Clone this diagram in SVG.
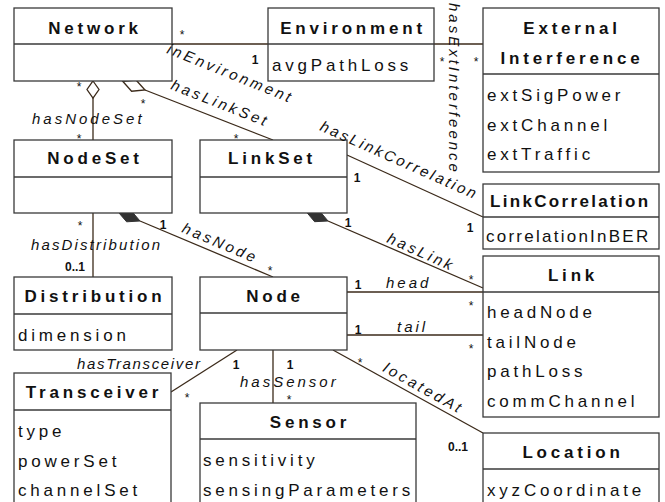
<svg xmlns="http://www.w3.org/2000/svg" width="665" height="502" viewBox="0 0 665 502">
<style>
.box{fill:#fff;stroke:#3a3a3a;stroke-width:1.3}
.dv{stroke:#3a3a3a;stroke-width:1.3}
.c{stroke:#3b2a1a;stroke-width:1.3;fill:none}
.t{font-family:"Liberation Sans",Arial,sans-serif;font-size:17px;font-weight:bold;letter-spacing:3.8px;text-anchor:middle;fill:#111}
.a{font-family:"Liberation Sans",Arial,sans-serif;font-size:17px;letter-spacing:3.8px;fill:#111}
.l{font-family:"Liberation Sans",Arial,sans-serif;font-size:15px;font-style:italic;letter-spacing:3px;fill:#111}
.m{font-family:"Liberation Sans",Arial,sans-serif;font-size:12px;font-weight:bold;text-anchor:middle;fill:#111}
.s{font-family:"Liberation Sans",Arial,sans-serif;font-size:12px;text-anchor:middle;fill:#111}
</style>
<rect width="665" height="502" fill="#fff"/>
<g id="connectors">
  <path class="c" d="M172 44H268"/>
  <path class="c" d="M434 44H483"/>
  <polygon points="93,81 99,89.5 93,98 87,89.5" fill="#fff" stroke="#3b2a1a" stroke-width="1.3"/>
  <path class="c" d="M93 98V140"/>
  <polygon points="122.7,81.3 131.6,91.2 145,90 136,80" fill="#fff" stroke="#3b2a1a" stroke-width="1.3"/>
  <path class="c" d="M145 90L273 140"/>
  <path class="c" d="M347 155L483 217"/>
  <polygon points="306,211.5 314.6,221.7 328,221 319.4,210.7" fill="#333" stroke="#333" stroke-width="1"/>
  <path class="c" d="M328 221L483 288"/>
  <polygon points="117.9,211.7 126.6,221.8 140,221 131.3,210.8" fill="#333" stroke="#333" stroke-width="1"/>
  <path class="c" d="M140 221L273 277"/>
  <path class="c" d="M93 213V277"/>
  <path class="c" d="M347 292H483"/>
  <path class="c" d="M347 335H483"/>
  <path class="c" d="M237 350L171 392"/>
  <path class="c" d="M273 350V403"/>
  <path class="c" d="M333 350L483 433"/>
</g>
<g id="Network">
  <rect class="box" x="14" y="8" width="158" height="73"/>
  <path class="dv" d="M14 44H172"/>
  <text class="t" x="95" y="34">Network</text>
</g>
<g id="Environment">
  <rect class="box" x="268" y="8" width="166" height="73"/>
  <path class="dv" d="M268 44H434"/>
  <text class="t" x="353" y="34">Environment</text>
  <text class="a" x="272" y="71">avgPathLoss</text>
</g>
<g id="ExternalInterference">
  <rect class="box" x="483" y="8" width="176" height="164"/>
  <path class="dv" d="M483 74H659"/>
  <text class="t" x="572" y="34">External</text>
  <text class="t" x="572" y="64">Interference</text>
  <text class="a" x="487" y="101">extSigPower</text>
  <text class="a" x="487" y="130.5">extChannel</text>
  <text class="a" x="487" y="160">extTraffic</text>
</g>
<g id="LinkCorrelation">
  <rect class="box" x="483" y="184" width="176" height="65"/>
  <path class="dv" d="M483 217H659"/>
  <text class="t" x="571" y="207" textLength="162" lengthAdjust="spacing" style="text-anchor:start" transform="translate(-81 0)">LinkCorrelation</text>
  <text class="a" x="486" y="242" textLength="166" lengthAdjust="spacing">correlationInBER</text>
</g>
<g id="Link">
  <rect class="box" x="483" y="256" width="176" height="161"/>
  <path class="dv" d="M483 292H659"/>
  <text class="t" x="573" y="281">Link</text>
  <text class="a" x="487" y="318">headNode</text>
  <text class="a" x="487" y="348">tailNode</text>
  <text class="a" x="487" y="377">pathLoss</text>
  <text class="a" x="487" y="407">commChannel</text>
</g>
<g id="Location">
  <rect class="box" x="483" y="433" width="176" height="80"/>
  <path class="dv" d="M483 469H659"/>
  <text class="t" x="573" y="458">Location</text>
  <text class="a" x="487" y="496">xyzCoordinate</text>
</g>
<g id="NodeSet">
  <rect class="box" x="14" y="140" width="158" height="73"/>
  <path class="dv" d="M14 177H172"/>
  <text class="t" x="95" y="164">NodeSet</text>
</g>
<g id="LinkSet">
  <rect class="box" x="200" y="140" width="147" height="73"/>
  <path class="dv" d="M200 177H347"/>
  <text class="t" x="272" y="164">LinkSet</text>
</g>
<g id="Distribution">
  <rect class="box" x="14" y="277" width="158" height="73"/>
  <path class="dv" d="M14 314H172"/>
  <text class="t" x="95" y="302">Distribution</text>
  <text class="a" x="18" y="341">dimension</text>
</g>
<g id="Node">
  <rect class="box" x="200" y="277" width="147" height="73"/>
  <path class="dv" d="M200 313H347"/>
  <text class="t" x="275" y="302">Node</text>
</g>
<g id="Transceiver">
  <rect class="box" x="14" y="373" width="157" height="140"/>
  <path class="dv" d="M14 410H171"/>
  <text class="t" x="94" y="398">Transceiver</text>
  <text class="a" x="18" y="437">type</text>
  <text class="a" x="18" y="467">powerSet</text>
  <text class="a" x="18" y="496">channelSet</text>
</g>
<g id="Sensor">
  <rect class="box" x="200" y="403" width="216" height="110"/>
  <path class="dv" d="M200 439H416"/>
  <text class="t" x="310" y="428">Sensor</text>
  <text class="a" x="203" y="466">sensitivity</text>
  <text class="a" x="203" y="496">sensingParameters</text>
</g>
<g id="connector-labels">
  <text class="l" transform="translate(166 53) rotate(22)">inEnvironment</text>
  <text class="s" x="182" y="39">*</text>
  <text class="m" x="255" y="64">1</text>
  <text class="l" transform="translate(449 3) rotate(90)">hasExtInterfeence</text>
  <text class="s" x="442" y="66">*</text>
  <text class="s" x="476" y="66">*</text>
  <text class="s" x="79" y="91">*</text>
  <text class="l" x="32" y="124">hasNodeSet</text>
  <text class="s" x="79" y="143">*</text>
  <text class="s" x="143" y="108">*</text>
  <text class="l" transform="translate(170 89) rotate(21.5)">hasLinkSet</text>
  <text class="s" x="236" y="143">*</text>
  <text class="l" transform="translate(319 130) rotate(24)" textLength="172" lengthAdjust="spacing">hasLinkCorrelation</text>
  <text class="m" x="357" y="182">1</text>
  <text class="m" x="470" y="232">1</text>
  <text class="m" x="348" y="227">1</text>
  <text class="l" transform="translate(386 242) rotate(24)">hasLink</text>
  <text class="s" x="471" y="284">*</text>
  <text class="m" x="163" y="229">1</text>
  <text class="l" transform="translate(181 232) rotate(23)">hasNode</text>
  <text class="s" x="270" y="275">*</text>
  <text class="s" x="80" y="230">*</text>
  <text class="l" x="31" y="250" textLength="132" lengthAdjust="spacing">hasDistribution</text>
  <text class="m" x="75" y="271">0..1</text>
  <text class="m" x="358" y="289">1</text>
  <text class="l" x="386" y="288">head</text>
  <text class="s" x="471" y="310">*</text>
  <text class="m" x="358" y="334">1</text>
  <text class="l" x="397" y="332">tail</text>
  <text class="s" x="471" y="353">*</text>
  <text class="l" x="77" y="369" textLength="126" lengthAdjust="spacing">hasTransceiver</text>
  <text class="m" x="236" y="369">1</text>
  <text class="s" x="187" y="402">*</text>
  <text class="m" x="290" y="369">1</text>
  <text class="l" x="240" y="387">hasSensor</text>
  <text class="s" x="289" y="404">*</text>
  <text class="s" x="360" y="367">*</text>
  <text class="l" transform="translate(382 371) rotate(29)">locatedAt</text>
  <text class="m" x="458" y="451">0..1</text>
</g>
</svg>
